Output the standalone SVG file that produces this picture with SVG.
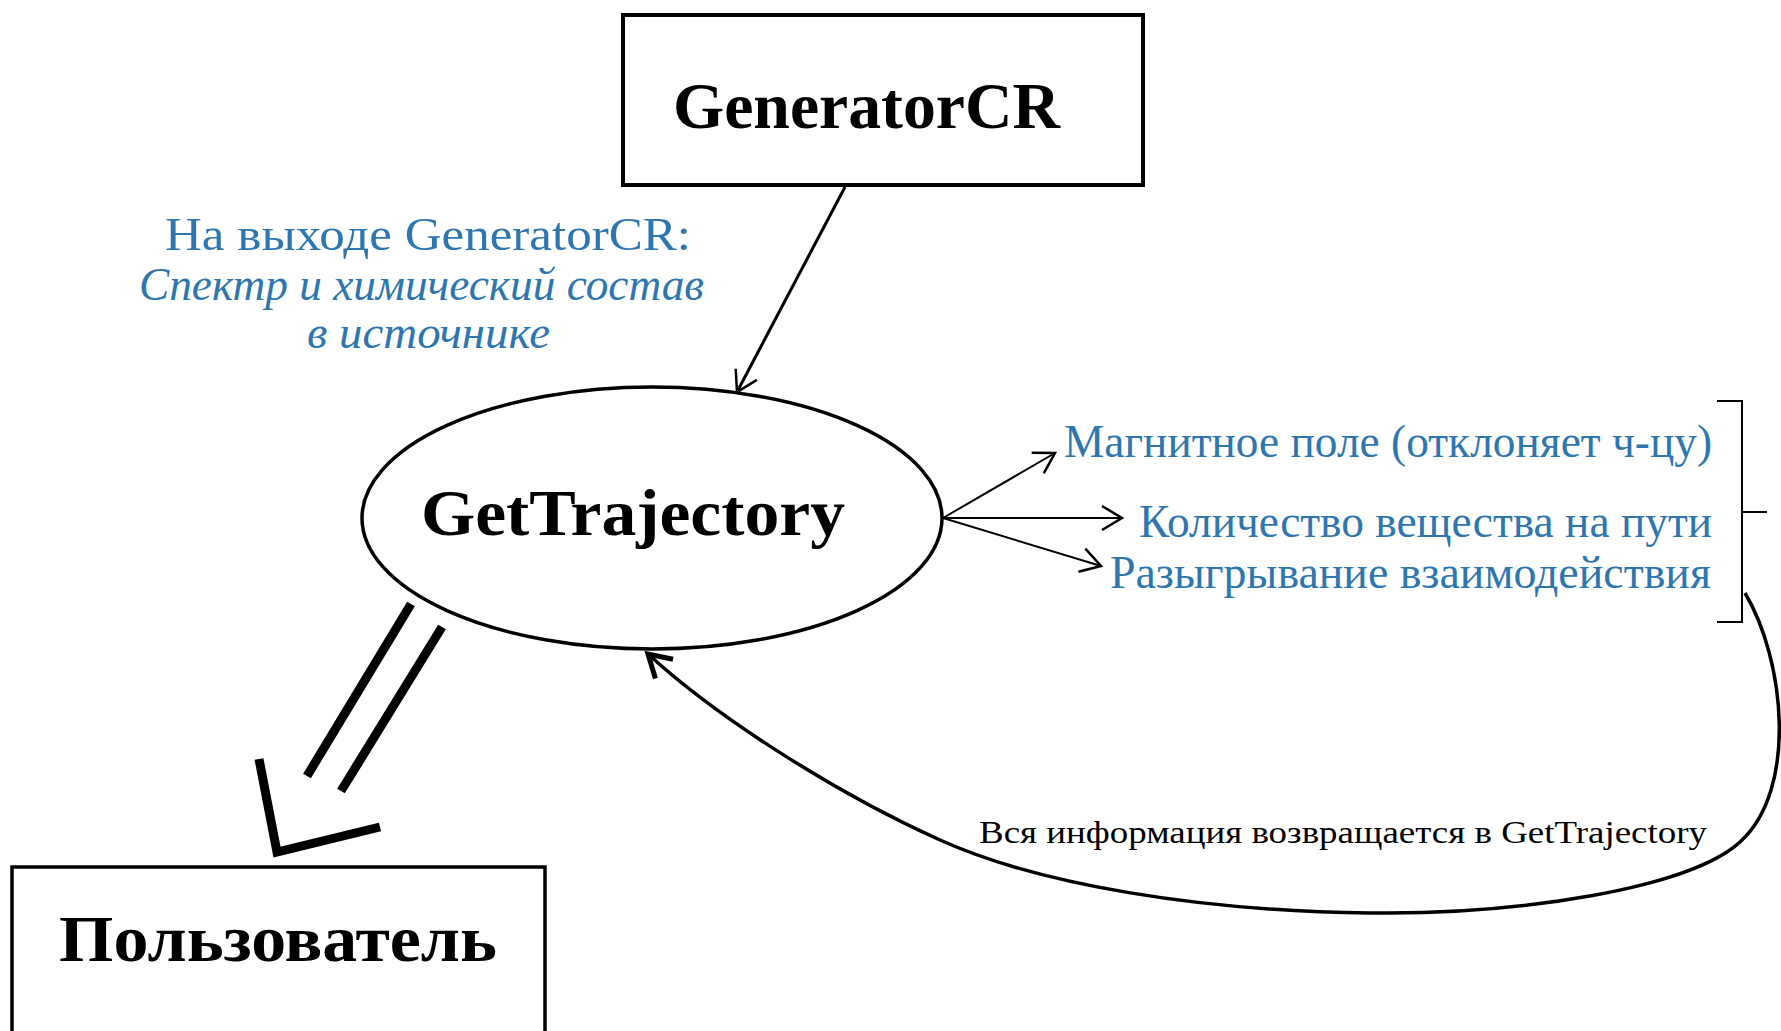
<svg xmlns="http://www.w3.org/2000/svg" width="1781" height="1031" viewBox="0 0 1781 1031">
<style>
.node{fill:#fff;stroke:#000}
.bold{font-family:"Liberation Serif","Times New Roman",serif;font-weight:bold;font-size:65px;fill:#000}
.blue{font-family:"Liberation Serif","Times New Roman",serif;font-size:46px;fill:#2E76B0}
.ital{font-style:italic}
.note{font-family:"Liberation Serif","Times New Roman",serif;font-size:32px;fill:#000}
.thin{fill:none;stroke:#000;stroke-width:2}
</style>
<defs>
<marker id="open" markerUnits="userSpaceOnUse" markerWidth="40" markerHeight="40" viewBox="-25 -20 30 40" refX="0" refY="0" orient="auto">
<path d="M-20,-12 L0,0 L-20,12" fill="none" stroke="#000" stroke-width="2.5"/>
</marker>
<marker id="openBold" markerUnits="userSpaceOnUse" markerWidth="50" markerHeight="50" viewBox="-30 -25 36 50" refX="0" refY="0" orient="auto">
<path d="M-22,-13 L0,0 L-22,13" fill="none" stroke="#000" stroke-width="5"/>
</marker>
</defs>
<rect width="1781" height="1031" fill="#fff"/>

<g id="connectors">
<line x1="845" y1="187" x2="737" y2="392" stroke="#000" stroke-width="3" marker-end="url(#open)"/>
<line x1="943" y1="518" x2="1055" y2="453" stroke="#000" stroke-width="2" marker-end="url(#open)"/>
<line x1="943" y1="518" x2="1122" y2="518" stroke="#000" stroke-width="2" marker-end="url(#open)"/>
<line x1="943" y1="518" x2="1101" y2="566" stroke="#000" stroke-width="2" marker-end="url(#open)"/>
<path d="M1745,593 C1785,660 1798,790 1740,842 C1690,888 1520,915 1370,913 C1200,911 1040,885 940,840 C840,795 720,720 648,654" fill="none" stroke="#000" stroke-width="3.5" marker-end="url(#openBold)"/>
<g fill="none" stroke="#000" stroke-width="9" stroke-linecap="butt">
<line x1="411" y1="604" x2="307" y2="776"/>
<line x1="442" y1="627" x2="341" y2="791"/>
<polyline points="259,759 277,852 380,827"/>
</g>
<path class="thin" d="M1717,401 L1742,401 L1742,622 L1717,622 M1742,512 L1767,512"/>
</g>

<g id="node-generator">
<rect class="node" x="623" y="15" width="520" height="170" stroke-width="4"/>
<text class="bold" x="673" y="128" textLength="387" lengthAdjust="spacingAndGlyphs">GeneratorCR</text>
</g>

<g id="node-gettrajectory">
<ellipse class="node" cx="652" cy="518" rx="290" ry="131" stroke-width="3.5"/>
<text class="bold" x="421" y="535" textLength="424" lengthAdjust="spacingAndGlyphs">GetTrajectory</text>
</g>

<g id="node-user">
<rect class="node" x="12" y="867" width="533" height="180" stroke-width="3.5"/>
<text class="bold" x="59" y="961" textLength="438" lengthAdjust="spacingAndGlyphs">Пользователь</text>
</g>

<g id="label-output">
<text class="blue" x="165" y="250" textLength="526" lengthAdjust="spacingAndGlyphs">На выходе GeneratorCR:</text>
<text class="blue ital" x="139" y="300" textLength="565" lengthAdjust="spacingAndGlyphs">Спектр и химический состав</text>
<text class="blue ital" x="307" y="348" textLength="243" lengthAdjust="spacingAndGlyphs">в источнике</text>
</g>

<g id="labels-effects">
<text class="blue" x="1064" y="457" textLength="648" lengthAdjust="spacingAndGlyphs">Магнитное поле (отклоняет ч-цу)</text>
<text class="blue" x="1139" y="537" textLength="573" lengthAdjust="spacingAndGlyphs">Количество вещества на пути</text>
<text class="blue" x="1110" y="588" textLength="601" lengthAdjust="spacingAndGlyphs">Разыгрывание взаимодействия</text>
</g>

<g id="label-return">
<text class="note" x="979" y="843" textLength="728" lengthAdjust="spacingAndGlyphs">Вся информация возвращается в GetTrajectory</text>
</g>
</svg>
